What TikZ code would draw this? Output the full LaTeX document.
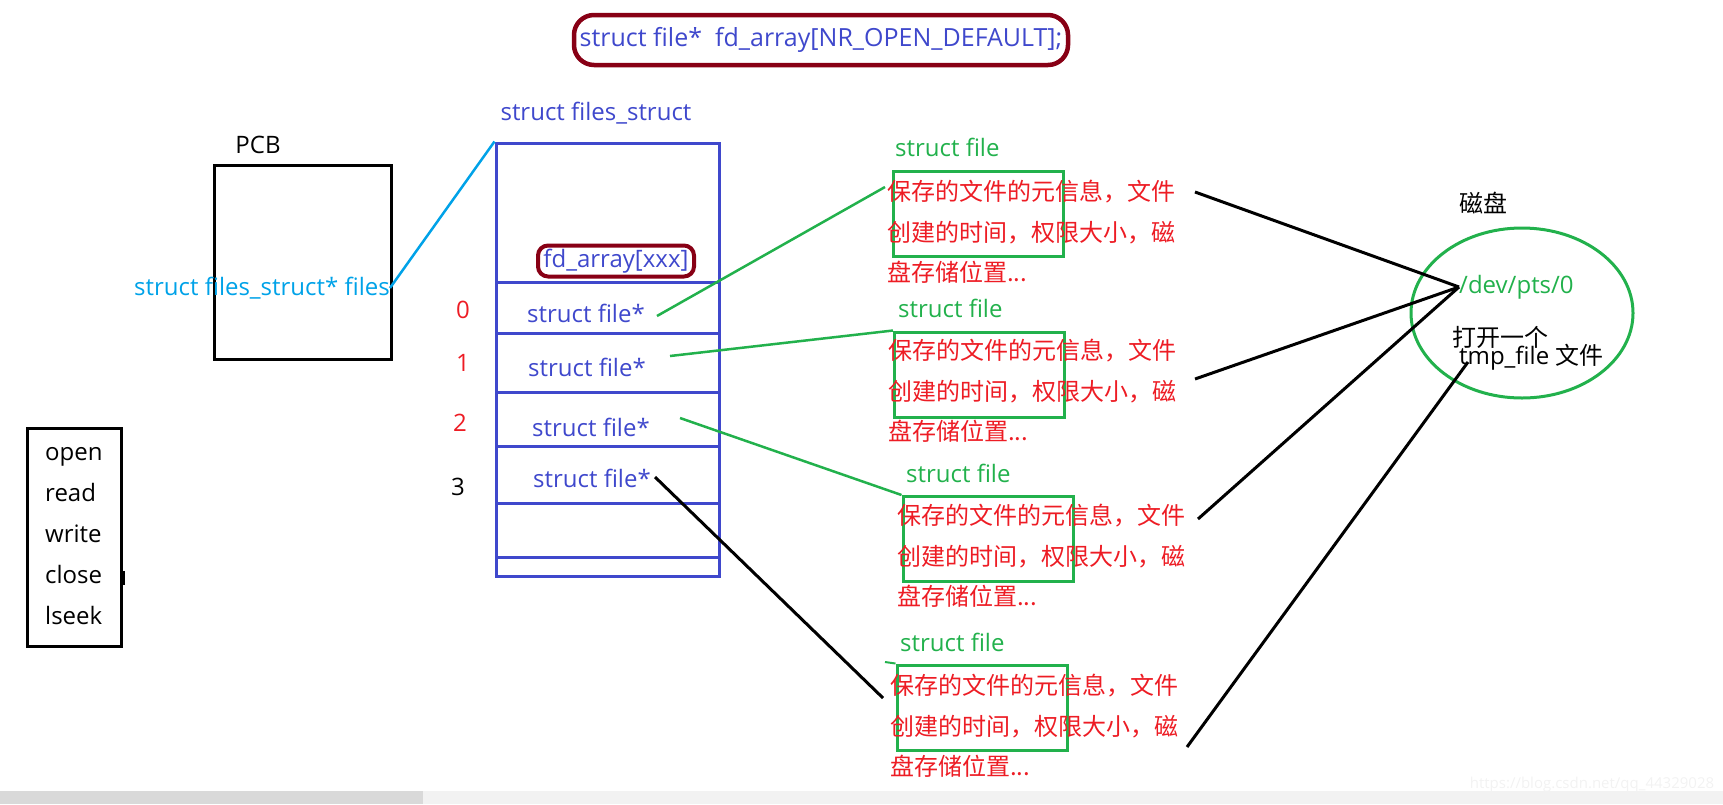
\documentclass[tikz,border=0pt]{standalone}
\usepackage{fontspec}
\setmainfont{Open Sans}
\newfontfamily\cjk{Noto Sans CJK SC}
\usetikzlibrary{shapes.geometric}
\definecolor{pblue}{HTML}{3F48CC}
\definecolor{pdred}{HTML}{880015}
\definecolor{pgreen}{HTML}{22B14C}
\definecolor{pred}{HTML}{ED1C24}
\definecolor{pcyan}{HTML}{00A2E8}
\begin{document}
\begin{tikzpicture}[x=1pt,y=-1pt,every node/.style={font=\fontsize{24}{24}\selectfont,inner sep=0pt},
  info/.style={anchor=north west,align=left,text=pred,font=\cjk\fontsize{24}{40.5}\selectfont},
  fbox/.style={draw=pgreen,line width=3,minimum width=170,minimum height=85},
  sfile/.style={anchor=west,text=pgreen}]
  \useasboundingbox (0,0) rectangle (1723,804);
  \fill[gray!10] (0,791) rectangle (1723,804);
  \fill[gray!30] (0,791) rectangle (423,804);
  \node[text=gray!10,font=\fontsize{15}{15}\selectfont] (wm) at (1592,785) {https://blog.csdn.net/qq\_44329028};

  \node[draw=pdred,line width=4.5,rounded corners=20,minimum width=494,minimum height=50,text=pblue,font=\fontsize{25}{25}\selectfont] (title) at (821,40) {struct file*\ \ fd\_array[NR\_OPEN\_DEFAULT];};

  \node (pcbl) at (258,145) {PCB};
  \node[draw,line width=3,minimum width=177,minimum height=194] (pcb) at (302.5,262) {};
  \node[text=pcyan] (files) at (262,288) {struct files\_struct* files};

  \node[text=pblue] (fsl) at (596,113) {struct files\_struct};
  \node[draw=pblue,line width=3,minimum width=223,minimum height=433] (fs) at (607.5,359.5) {};
  \foreach \y in {282,333,392,446,503,557}
    \draw[pblue,line width=3] (496,\y) -- (719,\y);
  \node[draw=pdred,line width=4,rounded corners=10,minimum width=156,minimum height=31,text=pblue] (fda) at (616,261) {fd\_array[xxx]};
  \draw[pcyan,line width=2.5] (files.east) -- (fs.north west);

  \node[text=pblue] (sf0) at (586,313) {struct file*};
  \node[text=pblue] (sf1) at (587,367) {struct file*};
  \node[text=pblue] (sf2) at (591,427) {struct file*};
  \node[text=pblue] (sf3) at (592,478) {struct file*};
  \node[text=pred] (i0) at (463,310) {0};
  \node[text=pred] (i1) at (463,363) {1};
  \node[text=pred] (i2) at (460,423) {2};
  \node (i3) at (458,487) {3};

  \node[sfile] (sfl1) at (895,147) {struct file};
  \node[fbox] (b1) at (978,214) {};
  \node[info] (t1) at (887,180) {保存的文件的元信息，文件\\创建的时间，权限大小，磁\\盘存储位置...};
  \node[sfile] (sfl2) at (898,308) {struct file};
  \node[fbox] (b2) at (979.5,374.5) {};
  \node[info] (t2) at (888,339) {保存的文件的元信息，文件\\创建的时间，权限大小，磁\\盘存储位置...};
  \node[sfile] (sfl3) at (906,473) {struct file};
  \node[fbox] (b3) at (988,539) {};
  \node[info] (t3) at (897,504) {保存的文件的元信息，文件\\创建的时间，权限大小，磁\\盘存储位置...};
  \node[sfile] (sfl4) at (900,642) {struct file};
  \node[fbox] (b4) at (982,707.5) {};
  \node[info] (t4) at (890,674) {保存的文件的元信息，文件\\创建的时间，权限大小，磁\\盘存储位置...};

  \coordinate (s0) at (657,316);
  \coordinate (s1) at (670,356);
  \coordinate (s2) at (680,418);
  \coordinate (s3) at (655,477);
  \coordinate (e0) at (885,187);
  \coordinate (e3) at (883,698);
  \draw[pgreen,line width=2.5] (s0) -- (e0);
  \draw[pgreen,line width=2.5] (s1) -- (b2.north west);
  \draw[pgreen,line width=2.5] (s2) -- (b3.north west);
  \draw[line width=3] (s3) -- (e3);
  \draw[pgreen,line width=2] (885,662) -- (b4.north west);

  \node (diskl) at (1483,203) {\cjk 磁盘};
  \node[draw=pgreen,line width=3,ellipse,minimum width=222,minimum height=170] (disk) at (1522,313) {};
  \node[anchor=west,text=pgreen] (dev) at (1459,287) {/dev/pts/0};
  \node[anchor=west] (tmp) at (1459,357) {tmp\_file {\cjk 文件}};
  \node[anchor=west] (open1) at (1452,337) {\cjk 打开一个};

  \coordinate (k1) at (1195,192);
  \coordinate (k2) at (1195,379);
  \coordinate (k3) at (1198,519);
  \coordinate (k4) at (1187,747);
  \coordinate (k5) at (1468,362);
  \draw[line width=3] (k1) -- (dev.west);
  \draw[line width=3] (k2) -- (dev.west);
  \draw[line width=3] (k3) -- (dev.west);
  \draw[line width=3] (k4) -- (k5);

  \node[draw,line width=3,minimum width=94,minimum height=218] (ops) at (74,537) {};
  \foreach \w [count=\i] in {open,read,write,close,lseek}
    \node[anchor=base west] (op\i) at (45,{419+41*\i}) {\w};
  \draw[line width=3] (123,571) -- (123,585);
\end{tikzpicture}
\end{document}
